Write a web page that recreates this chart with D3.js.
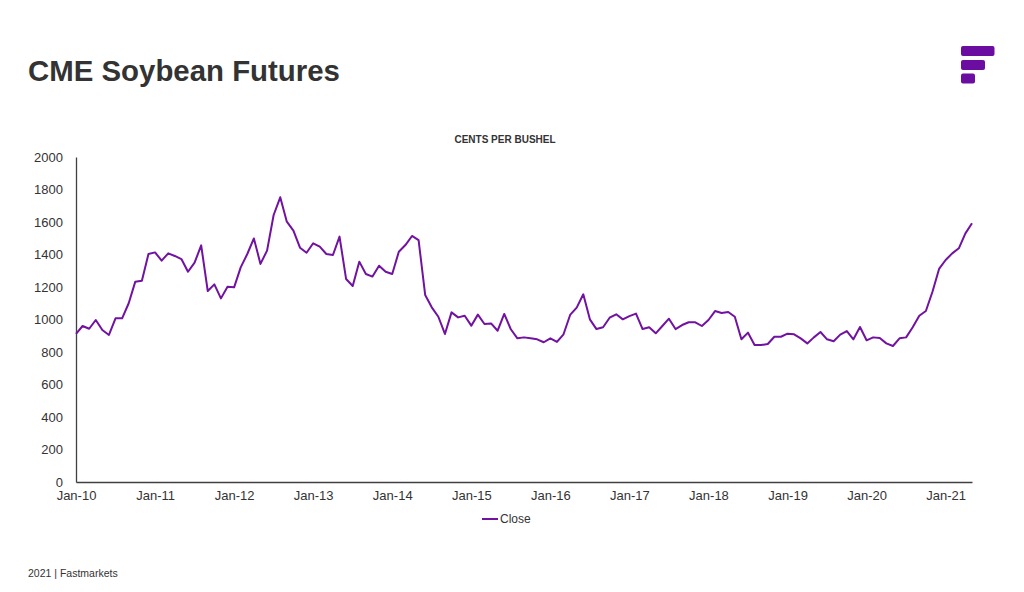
<!DOCTYPE html>
<html lang="en">
<head>
    <meta charset="UTF-8">
    <title>CME Soybean Futures</title>
    <script src="https://cdnjs.cloudflare.com/ajax/libs/d3/7.8.5/d3.js"></script>
    <style>
        body { margin: 0; background: #fff; font-family: "Liberation Sans", Arial, sans-serif; }
        svg { display: block; }
    </style>
</head>
<body>
<svg id="chart" width="1024" height="592"></svg>

<script>
    // monthly close, cents per bushel, Jan-10 .. May-21
    const closeValues = [
        911, 960, 943, 997, 935, 905, 1007, 1007, 1100, 1233, 1239, 1403,      // 2010
        1413, 1362, 1407, 1391, 1372, 1294, 1350, 1456, 1175, 1216, 1130, 1202, // 2011
        1198, 1321, 1403, 1499, 1342, 1424, 1643, 1752, 1602, 1547, 1442, 1411, // 2012
        1469, 1448, 1403, 1397, 1510, 1249, 1206, 1356, 1280, 1264, 1331, 1294, // 2013
        1280, 1417, 1458, 1514, 1489, 1151, 1075, 1017, 911, 1044, 1013, 1023,  // 2014
        962, 1030, 972, 976, 931, 1034, 940, 884, 890, 884, 878, 860,           // 2015
        884, 862, 909, 1028, 1073, 1155, 1001, 941, 952, 1011, 1032, 1001,      // 2016
        1021, 1036, 941, 952, 915, 960, 1005, 941, 966, 983, 983, 960,          // 2017
        997, 1052, 1040, 1046, 1017, 878, 919, 843, 843, 849, 894, 894,         // 2018
        913, 909, 884, 853, 890, 923, 878, 866, 907, 929, 878, 954,             // 2019
        872, 890, 886, 853, 837, 884, 890, 952, 1023, 1052, 1171, 1311,         // 2020
        1366, 1407, 1438, 1530, 1592                                            // 2021
    ];
    const yTicks = [0, 200, 400, 600, 800, 1000, 1200, 1400, 1600, 1800, 2000];
    const seriesName = "Close";

    const fmt = d3.timeFormat("%b-%y");
    const months = d3.timeMonth.range(new Date(2010, 0, 1), new Date(2021, 5, 1)).map(fmt);
    const data = months.map((m, i) => ({ month: m, value: closeValues[i] }));
    const janLabels = months.filter(m => m.startsWith("Jan"));

    const svg = d3.select("#chart");
    const purple = "#7112A0";
    const textCol = "#333333";

    const x = d3.scalePoint().domain(months).range([76, 972]);
    const y = d3.scaleLinear().domain([0, 2000]).range([482, 157]);

    // title
    svg.append("text")
        .attr("x", 28).attr("y", 81)
        .attr("font-size", 29.4).attr("font-weight", "bold")
        .attr("fill", textCol)
        .text("CME Soybean Futures");

    // logo
    const logo = svg.append("g").attr("fill", "#6A0DA0");
    [[961, 46, 33.5], [961, 60, 24], [961, 73.5, 14]].forEach(b => {
        logo.append("rect").attr("x", b[0]).attr("y", b[1])
            .attr("width", b[2]).attr("height", 10).attr("rx", 2);
    });

    svg.append("text")
        .attr("x", 505).attr("y", 143)
        .attr("text-anchor", "middle")
        .attr("font-size", 10).attr("font-weight", "bold")
        .attr("fill", textCol)
        .text("CENTS PER BUSHEL");

    // axes
    const yAxis = svg.append("g")
        .attr("transform", "translate(76,0)")
        .call(d3.axisLeft(y).tickValues(yTicks).tickFormat(d3.format("d")).tickSize(0).tickPadding(13));
    const xAxis = svg.append("g")
        .attr("transform", "translate(0,482)")
        .call(d3.axisBottom(x).tickValues(janLabels).tickSize(0).tickPadding(9));

    [yAxis, xAxis].forEach(g => {
        g.select(".domain").attr("stroke", "#404040").attr("stroke-width", 1.3);
        g.selectAll("text")
            .attr("font-family", "'Liberation Sans', Arial, sans-serif")
            .attr("font-size", 13).attr("fill", textCol);
    });

    // line
    const line = d3.line().x(d => x(d.month)).y(d => y(d.value));
    svg.append("path")
        .datum(data)
        .attr("fill", "none")
        .attr("stroke", purple)
        .attr("stroke-width", 2)
        .attr("stroke-linejoin", "round")
        .attr("d", line);

    // legend
    svg.append("line")
        .attr("x1", 482).attr("x2", 498).attr("y1", 519).attr("y2", 519)
        .attr("stroke", purple).attr("stroke-width", 2);
    svg.append("text")
        .attr("x", 500).attr("y", 523)
        .attr("font-size", 12).attr("fill", textCol)
        .text(seriesName);

    // footer
    svg.append("text")
        .attr("x", 28).attr("y", 577)
        .attr("font-size", 10.5).attr("fill", textCol)
        .text("2021 | Fastmarkets");
</script>
</body>
</html>
